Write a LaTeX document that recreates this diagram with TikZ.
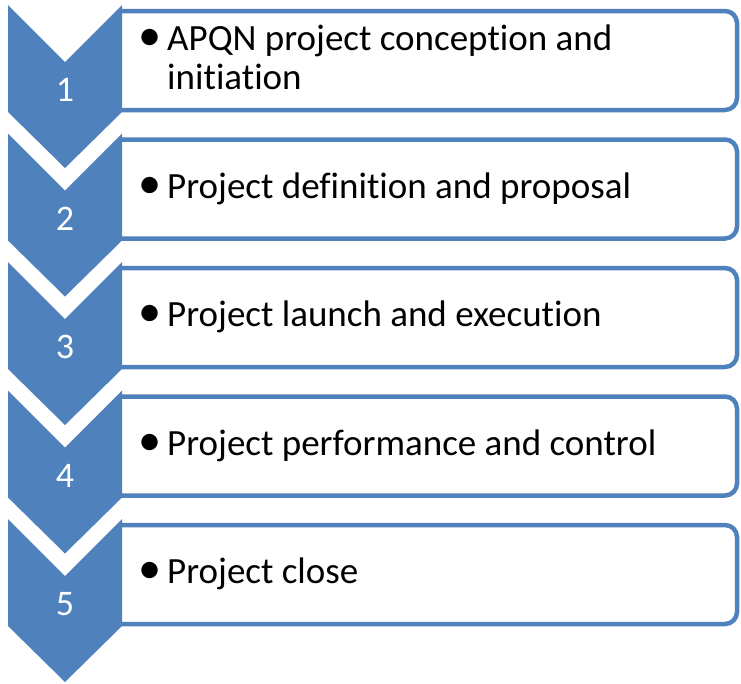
\documentclass[tikz,border=0pt]{standalone}
\usepackage{fontspec}
\setmainfont{Carlito}[Ligatures=NoCommon]
\definecolor{chevblue}{HTML}{4F81BD}

\begin{document}
\begin{tikzpicture}[x=1pt,y=-1pt,
    chevron/.style={fill=chevblue,draw=none},
    itembox/.style={draw=chevblue,line width=4.5pt,fill=white,rounded corners=12pt},
    numtext/.style={text=white,inner sep=0pt,font=\fontsize{36}{36}\selectfont},
    itemtext/.style={anchor=base west,inner sep=0pt,font=\fontsize{37}{39}\selectfont}]

    \useasboundingbox (0,0) rectangle (741,683);

    % number / first baseline / text
    \foreach \i/\b/\txt in {1/45/{APQN project conception and\\ & initiation},
                            2/64.5/{Project definition and proposal},
                            3/64.5/{Project launch and execution},
                            4/64.5/{Project performance and control},
                            5/64.5/{Project close}}
    {
        \pgfmathsetmacro{\T}{5+128.5*(\i-1)}
        % box with the text
        \draw[itembox] (122,\T+6) -- (737,\T+6) -- (737,\T+105) -- (122,\T+105);
        % chevron on the left
        \fill[chevron] (8,\T) -- (65,\T+57) -- (122,\T) -- (122,\T+107)
            -- (65,\T+163) -- (8,\T+107) -- cycle;
        \node[numtext] (n\i) at (65,\T+85) {\i};
        \node[itemtext] (t\i) at (138,\T+\b)
            {\begin{tabular}[t]{@{}l@{\hspace{6pt}}l@{}}\scalebox{1.25}{\textbullet} & \txt\end{tabular}};
    }

\end{tikzpicture}
\end{document}
